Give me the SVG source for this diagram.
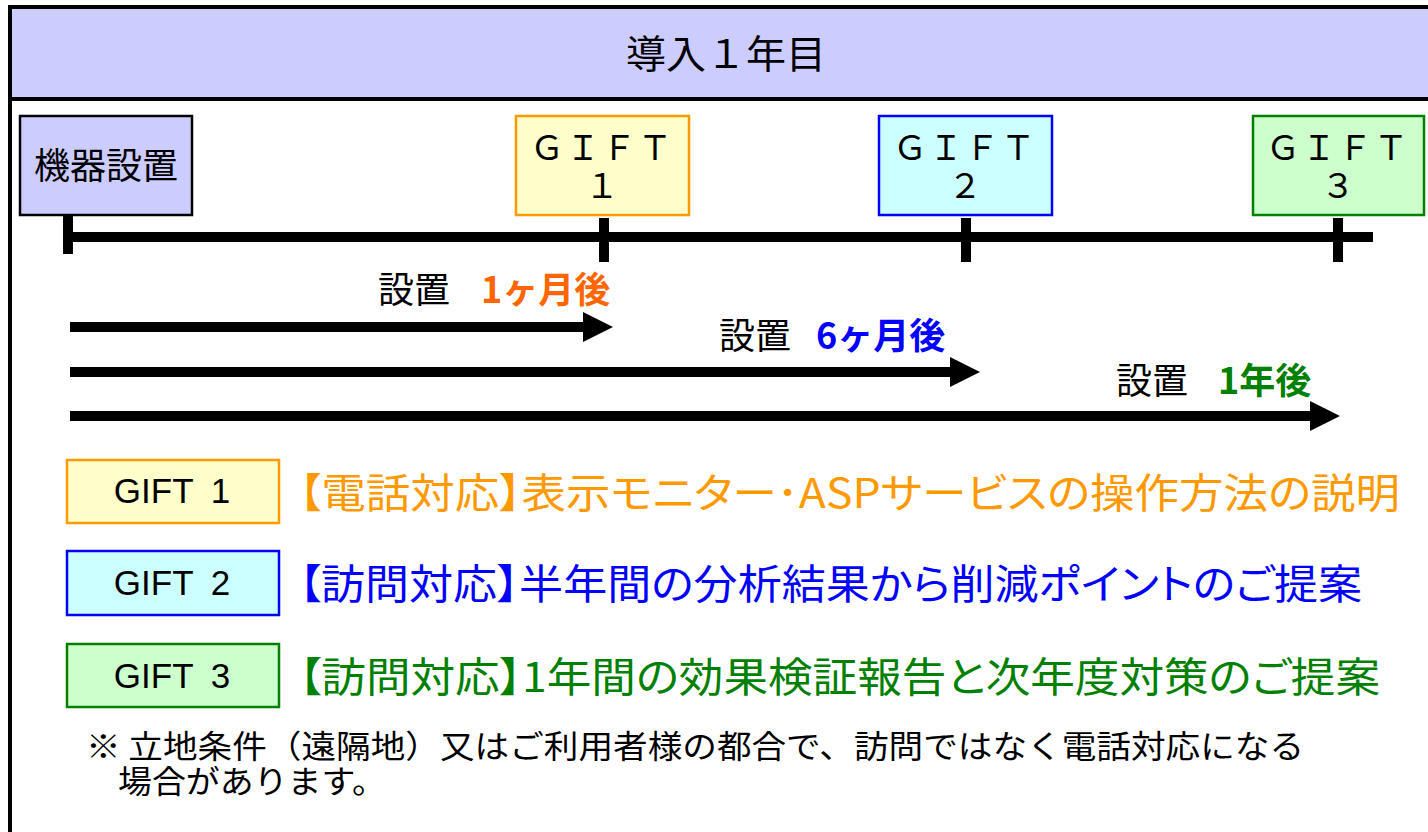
<svg xmlns="http://www.w3.org/2000/svg" width="1428" height="832" viewBox="0 0 1428 832">
<defs>
<style>
.jp{font-family:"Noto Sans CJK JP","Noto Sans CJK SC",sans-serif;}
.palt{font-feature-settings:"palt";}
.lat{font-family:"Liberation Sans",Arial,sans-serif;}
.box{stroke-width:2.5;}
.tl{stroke:#000;stroke-width:10;fill:none;}
.arr{stroke:#000;stroke-width:10;fill:none;marker-end:url(#head);}
.lbl{font-size:36px;}
.lblb{font-size:36px;font-weight:bold;}
</style>
<marker id="head" viewBox="0 0 3 3" refX="0" refY="1.5" markerWidth="3" markerHeight="3" orient="auto" markerUnits="strokeWidth">
<path d="M0,0 L3,1.5 L0,3 z" fill="#000"/>
</marker>
</defs>
<rect x="0" y="0" width="1428" height="832" fill="#fff"/>
<g id="frame">
<rect x="10" y="7" width="1440" height="850" fill="#fff" stroke="#000" stroke-width="4"/>
<rect x="10" y="7" width="1440" height="92" fill="#ccccff" stroke="#000" stroke-width="4"/>
<text class="jp" x="626" y="68" font-size="39" textLength="200" lengthAdjust="spacingAndGlyphs" fill="#000">導入１年目</text>
</g>
<g id="connectors">
<line class="tl" x1="63" y1="237" x2="1373" y2="237"/>
<line class="tl" x1="68" y1="215" x2="68" y2="254"/>
<line class="tl" x1="604" y1="218" x2="604" y2="262"/>
<line class="tl" x1="966" y1="218" x2="966" y2="262"/>
<line class="tl" x1="1338" y1="218" x2="1338" y2="262"/>
<line class="arr" x1="70" y1="327" x2="583" y2="327"/>
<line class="arr" x1="70" y1="372" x2="950" y2="372"/>
<line class="arr" x1="70" y1="416" x2="1310" y2="416"/>
</g>
<g id="node-setup">
<rect class="box" x="20" y="116" width="172" height="99" fill="#ccccff" stroke="#000"/>
<text class="jp" x="34" y="179" font-size="36" textLength="144" lengthAdjust="spacingAndGlyphs">機器設置</text>
</g>
<g id="node-gift1">
<rect class="box" x="516" y="116" width="173" height="99" fill="#ffffcc" stroke="#ff9900"/>
<text class="jp" x="602" y="160" font-size="34" text-anchor="middle" letter-spacing="2">ＧＩＦＴ</text>
<text class="jp" x="602" y="198" font-size="34" text-anchor="middle">１</text>
</g>
<g id="node-gift2">
<rect class="box" x="879" y="116" width="173" height="99" fill="#ccffff" stroke="#0000ff"/>
<text class="jp" x="965" y="160" font-size="34" text-anchor="middle" letter-spacing="2">ＧＩＦＴ</text>
<text class="jp" x="965" y="198" font-size="34" text-anchor="middle">２</text>
</g>
<g id="node-gift3">
<rect class="box" x="1253" y="116" width="171" height="99" fill="#ccffcc" stroke="#008000"/>
<text class="jp" x="1338" y="160" font-size="34" text-anchor="middle" letter-spacing="2">ＧＩＦＴ</text>
<text class="jp" x="1338" y="198" font-size="34" text-anchor="middle">３</text>
</g>
<g id="labels">
<text class="jp lbl" x="378" y="303">設置</text>
<text class="jp lblb" x="481" y="303" fill="#ff6600">1ヶ月後</text>
<text class="jp lbl" x="719" y="349">設置</text>
<text class="jp lblb" x="816" y="349" fill="#0000ff">6ヶ月後</text>
<text class="jp lbl" x="1116" y="394">設置</text>
<text class="jp lblb" x="1218" y="394" fill="#008000">1年後</text>
</g>
<g id="legend-gift1">
<rect class="box" x="67" y="460" width="212" height="63" fill="#ffffcc" stroke="#ff9900"/>
<text class="lat" x="172" y="503" font-size="35" text-anchor="middle" word-spacing="8">GIFT 1</text>
<text class="jp palt" x="299" y="508" font-size="41" fill="#ff9900" textLength="1101" lengthAdjust="spacingAndGlyphs">【電話対応】表示モニター･ASPサービスの操作方法の説明</text>
</g>
<g id="legend-gift2">
<rect class="box" x="67" y="551" width="212" height="64" fill="#ccffff" stroke="#0000ff"/>
<text class="lat" x="172" y="595" font-size="35" text-anchor="middle" word-spacing="8">GIFT 2</text>
<text class="jp palt" x="299" y="599" font-size="41" fill="#0000ff" textLength="1063" lengthAdjust="spacingAndGlyphs">【訪問対応】半年間の分析結果から削減ポイントのご提案</text>
</g>
<g id="legend-gift3">
<rect class="box" x="67" y="644" width="212" height="63" fill="#ccffcc" stroke="#008000"/>
<text class="lat" x="172" y="688" font-size="35" text-anchor="middle" word-spacing="8">GIFT 3</text>
<text class="jp palt" x="299" y="692" font-size="41" fill="#008000" textLength="1081" lengthAdjust="spacingAndGlyphs">【訪問対応】1年間の効果検証報告と次年度対策のご提案</text>
</g>
<g id="note">
<text class="jp" x="86" y="758" font-size="32" textLength="1218" lengthAdjust="spacingAndGlyphs">※ 立地条件（遠隔地）又はご利用者様の都合で、訪問ではなく電話対応になる</text>
<text class="jp" x="118" y="793" font-size="32" textLength="268" lengthAdjust="spacingAndGlyphs">場合があります。</text>
</g>
</svg>
